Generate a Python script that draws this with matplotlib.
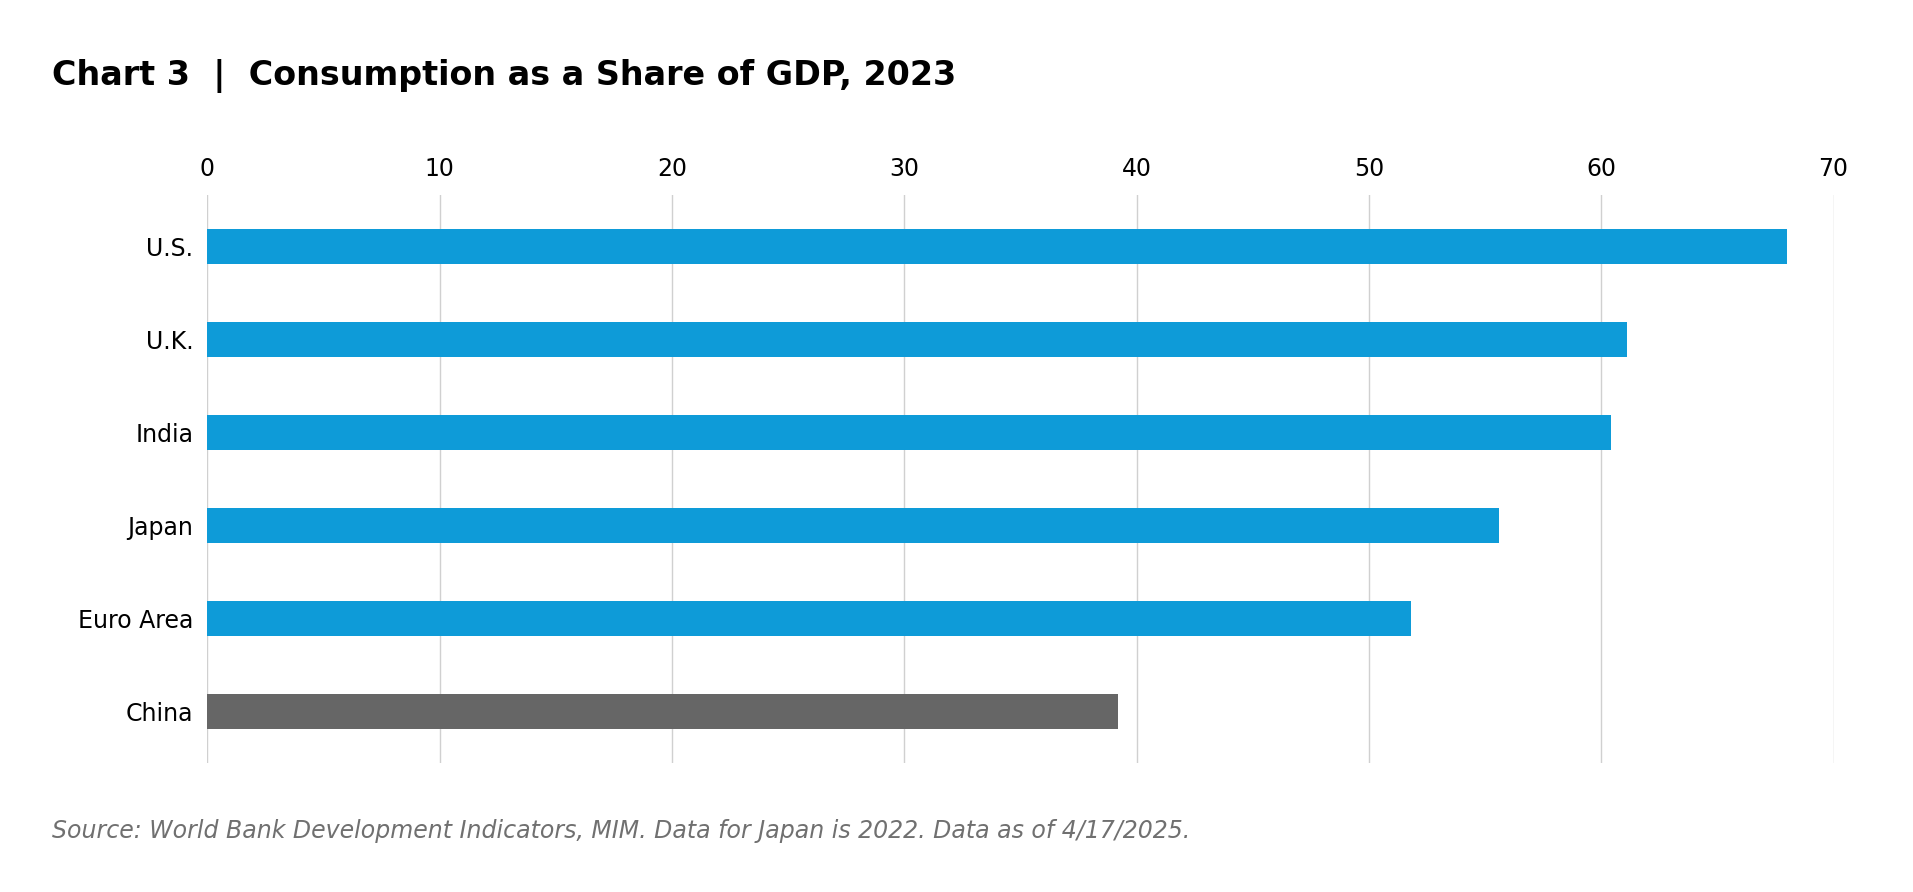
import matplotlib
matplotlib.use("Agg")
import matplotlib.pyplot as plt

categories = ["U.S.", "U.K.", "India", "Japan", "Euro Area", "China"]
values = [68.0, 61.1, 60.4, 55.6, 51.8, 39.2]
colors = ["#0e9bd8"] * 5 + ["#666666"]
x_ticks = [0, 10, 20, 30, 40, 50, 60, 70]

plt.rcParams["font.family"] = "DejaVu Sans"

figure = plt.figure(figsize=(19.13, 8.92), dpi=100)
ax = figure.add_axes([0.1084, 0.145, 0.8501, 0.636])

positions = list(range(len(categories)))
ax.barh(positions, values, height=0.37, color=colors, zorder=3)
ax.set_ylim(len(categories) - 1 + 0.55, -0.55)
ax.set_xlim(0, 70)
ax.set_yticks(positions)
ax.set_yticklabels(categories, fontsize=17)
ax.set_xticks(x_ticks)
ax.set_xticklabels([str(t) for t in x_ticks], fontsize=17)
ax.xaxis.tick_top()
ax.tick_params(axis="both", length=0, pad=10)
ax.grid(axis="x", color="#d0d0d0", linewidth=1, zorder=0)
for spine in ax.spines.values():
    spine.set_visible(False)

figure.text(0.027, 0.915, "Chart 3  |  Consumption as a Share of GDP, 2023",
            fontsize=24, fontweight="bold", va="center", ha="left")
figure.text(0.027, 0.068,
            "Source: World Bank Development Indicators, MIM. Data for Japan is 2022. Data as of 4/17/2025.",
            fontsize=17, style="italic", color="#707070", va="center", ha="left")

figure.savefig("out.png", dpi=100)
plt.close(figure)
